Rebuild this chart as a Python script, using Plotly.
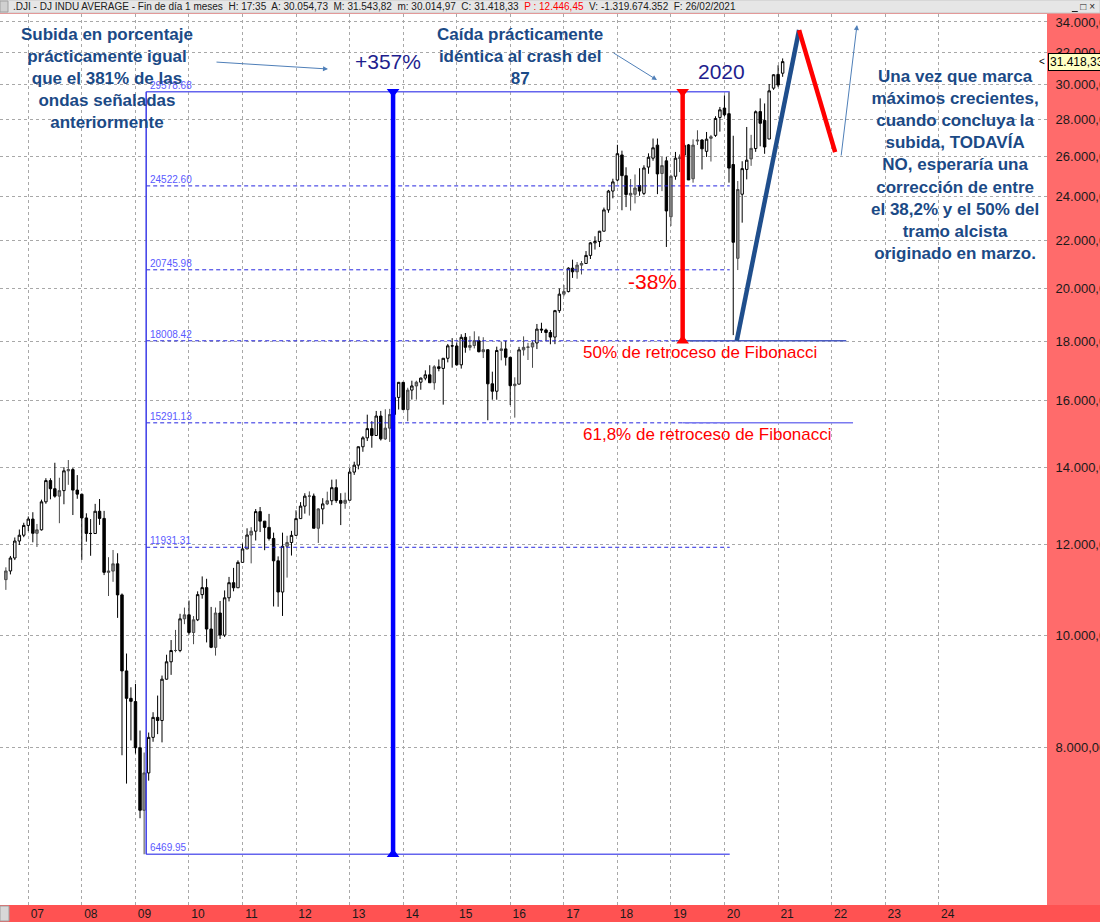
import math

import pandas as pd
import plotly.graph_objects as go

# Dow Jones Industrial Average, monthly candles Aug 2006 - Feb 2021
FIRST_MONTH = "2006-08-01"

OPEN = [
    11186, 11381, 11679, 12081, 12222,
    12463, 12622, 12269, 12354, 13063, 13628, 13409, 13212, 13358, 13896, 13930, 13372,
    13262, 12650, 12266, 12263, 12820, 12638, 11350, 11378, 11544, 10851, 9325, 8829,
    8772, 8001, 7063, 7609, 8168, 8500, 8447, 9172, 9496, 9712, 9713, 10345,
    10428, 10067, 10325, 10857, 11009, 10137, 9774, 10466, 10015, 10788, 11118, 11006,
    11578, 11892, 12226, 12320, 12811, 12570, 12414, 12143, 11614, 10913, 11955, 12046,
    12218, 12633, 12952, 13212, 13214, 12393, 12880, 13009, 13091, 13437, 13096, 13026,
    13104, 13861, 14054, 14579, 14840, 15116, 14910, 15500, 14810, 15130, 15546, 16086,
    16577, 15699, 16322, 16458, 16581, 16717, 16827, 16563, 17098, 17043, 17391, 17828,
    17823, 17165, 18133, 17776, 17841, 18011, 17620, 17690, 16528, 16285, 17664, 17720,
    17425, 16466, 16517, 17685, 17774, 17787, 17930, 18432, 18401, 18308, 18142, 19124,
    19763, 19864, 20812, 20663, 20941, 21009, 21350, 21891, 21948, 22405, 23377, 24272,
    24809, 26083, 25025, 24076, 24118, 24542, 24161, 25461, 25917, 26598, 25135, 25779,
    23059, 24999, 25916, 26075, 26611, 24875, 26818, 26873, 26272, 26963, 27120, 28109,
    28639, 28319, 25591, 21227, 24120, 25342, 25879, 26419, 28439, 27941, 26925, 29799,
    30627, 30700,
]
HIGH = [
    11464, 11727, 12167, 12362, 12529,
    12687, 12795, 12500, 13121, 13693, 13692, 14121, 13705, 14000, 14198, 13973, 13778,
    13280, 12768, 12622, 13010, 13136, 12830, 11698, 11867, 11790, 10882, 9654, 9026,
    9088, 8280, 7925, 8247, 8588, 8878, 9239, 9631, 9917, 10119, 10450, 10580,
    10729, 10402, 10928, 11258, 11205, 10594, 10581, 10720, 10948, 11247, 11451, 11625,
    12020, 12391, 12419, 12876, 12929, 12570, 12753, 12285, 11717, 12284, 12208, 12329,
    12843, 13056, 13289, 13338, 13280, 12898, 13158, 13330, 13653, 13661, 13290, 13305,
    13970, 14150, 14585, 14888, 15542, 15341, 15658, 15659, 15710, 15722, 16174, 16589,
    16588, 16399, 16631, 16630, 16736, 16978, 17152, 17153, 17350, 17395, 17895, 18104,
    17951, 18244, 18289, 18175, 18351, 18168, 18137, 17691, 16933, 17799, 17978, 17996,
    17425, 16743, 17790, 18168, 17934, 18017, 18622, 18668, 18450, 18399, 19152, 19988,
    20126, 20851, 21169, 21070, 21112, 21535, 21929, 22179, 22420, 23485, 24328, 24876,
    26617, 26307, 25450, 24858, 25087, 25402, 25552, 26168, 26952, 26951, 25980, 25980,
    25075, 26241, 26109, 26696, 26660, 26907, 27399, 26913, 27306, 27145, 28175, 28702,
    29374, 29568, 27102, 24764, 25758, 27580, 27151, 28503, 29199, 28903, 30046, 30637,
    31193, 31620,
]
LOW = [
    10960, 11303, 11631, 11986, 12174,
    12321, 12050, 11939, 12336, 13013, 13129, 13172, 12518, 13000, 13513, 12724, 13143,
    11635, 12065, 11731, 12263, 12476, 11288, 10827, 11137, 10365, 7882, 7449, 8118,
    7909, 6952, 6470, 7493, 8097, 8221, 8087, 9165, 9252, 9678, 9679, 10236,
    10026, 9835, 10299, 10769, 9870, 9758, 9614, 9937, 9976, 10711, 10929, 11005,
    11578, 11892, 11555, 12093, 12299, 11862, 12093, 10604, 10597, 10405, 11231, 11736,
    12212, 12633, 12759, 12710, 12391, 12035, 12492, 12978, 12977, 13037, 12471, 12884,
    13104, 13784, 13937, 14434, 14746, 14551, 14910, 14761, 14778, 14719, 15467, 15703,
    15699, 15340, 16017, 16015, 16334, 16644, 16563, 16334, 16945, 15855, 17250, 17068,
    17136, 17037, 17585, 17664, 17736, 17597, 17399, 15370, 16013, 16013, 17320, 17139,
    15842, 15451, 16511, 17484, 17331, 17063, 17713, 18289, 17992, 17883, 17888, 19038,
    19678, 19832, 20413, 20380, 20554, 20996, 21197, 21600, 21709, 22405, 23243, 23922,
    24741, 23360, 23509, 23345, 23682, 24043, 24077, 25124, 25784, 24123, 24268, 21713,
    22639, 24827, 25208, 26071, 24813, 24680, 26607, 25339, 25978, 25744, 27040, 27325,
    28169, 24681, 18213, 20735, 22790, 24843, 25523, 26245, 26537, 26143, 26925, 29699,
    29856, 30480,
]
CLOSE = [
    11381, 11679, 12081, 12222, 12463,
    12622, 12269, 12354, 13063, 13628, 13409, 13212, 13358, 13896, 13930, 13372, 13265,
    12650, 12266, 12263, 12820, 12638, 11350, 11378, 11544, 10851, 9325, 8829, 8776,
    8001, 7063, 7609, 8168, 8500, 8447, 9172, 9496, 9712, 9713, 10345, 10428,
    10067, 10325, 10857, 11009, 10137, 9774, 10466, 10015, 10788, 11118, 11006, 11578,
    11892, 12226, 12320, 12811, 12570, 12414, 12143, 11614, 10913, 11955, 12046, 12218,
    12633, 12952, 13212, 13214, 12393, 12880, 13009, 13091, 13437, 13096, 13026, 13104,
    13861, 14054, 14579, 14840, 15116, 14910, 15500, 14810, 15130, 15546, 16086, 16577,
    15699, 16322, 16458, 16581, 16717, 16827, 16563, 17098, 17043, 17391, 17828, 17823,
    17165, 18133, 17776, 17841, 18011, 17620, 17690, 16528, 16285, 17664, 17720, 17425,
    16466, 16517, 17685, 17774, 17787, 17930, 18432, 18401, 18308, 18142, 19124, 19763,
    19864, 20812, 20663, 20941, 21009, 21350, 21891, 21948, 22405, 23377, 24272, 24719,
    26149, 25029, 24103, 24163, 24416, 24271, 25415, 25965, 26458, 25116, 25538, 23327,
    24999, 25916, 25929, 26593, 24815, 26600, 26864, 26403, 26917, 27046, 28051, 28538,
    28256, 25409, 21917, 24346, 25383, 25813, 26428, 28430, 27782, 26502, 29639, 30606,
    29983, 31418.33,
]

# Fibonacci retracement drawn from the March 2009 low to the February 2020 high
FIB_LEVELS = [29578.68, 24522.60, 20745.98, 18008.42, 15291.13, 11931.31, 6469.95]
FIB_START, FIB_END = "2009-03-15", "2020-02-06"
EXT_50 = (["2019-02-02", "2022-04-11"], 18008.42)
EXT_618 = (["2019-03-20", "2022-05-27"], 15291.13)

# hand-drawn measures and projected path
RISE_DATE, RISE_RANGE = "2013-10-24", [6469.95, 29578.68]
DROP_DATE, DROP_RANGE = "2019-03-22", [18008.42, 29578.68]
PATH_UP = (["2020-03-25", "2021-05-24"], [18008.42, 33460])
PATH_DOWN = (["2021-05-24", "2022-01-25"], [33460, 26235])

Y_TICKS = list(range(8000, 34001, 2000))
YEARS = list(range(2007, 2025))

months = pd.date_range(FIRST_MONTH, periods=len(CLOSE), freq="MS")

# candle tone: black = down month, white = up month above previous high, gray = other up months
tone = []
for i, (o, c) in enumerate(zip(OPEN, CLOSE)):
    if c < o:
        tone.append("black")
    elif i > 0 and c > HIGH[i - 1]:
        tone.append("white")
    else:
        tone.append("gray")

PLOT_W, PLOT_H, TOP = 1047, 891, 14


def px(x):
    return x / PLOT_W


def py(y):
    return (TOP + PLOT_H - y) / PLOT_H


FONT = "Arial, Liberation Sans, sans-serif"
TEXT_BLUE = "#1B4A86"
NAVY = "#1E1E8E"

fig = go.Figure()

candle_styles = {
    "white": ("#FFFFFF", "#000000"),
    "gray": ("#8C8C8C", "#4A4A4A"),
    "black": ("#000000", "#000000"),
}
for name, (fill, edge) in candle_styles.items():
    keep = [t == name for t in tone]
    fig.add_trace(go.Candlestick(
        x=months,
        open=[v if k else None for v, k in zip(OPEN, keep)],
        high=[v if k else None for v, k in zip(HIGH, keep)],
        low=[v if k else None for v, k in zip(LOW, keep)],
        close=[v if k else None for v, k in zip(CLOSE, keep)],
        increasing=dict(fillcolor=fill, line=dict(color=edge, width=1)),
        decreasing=dict(fillcolor=fill, line=dict(color=edge, width=1)),
        whiskerwidth=0,
        showlegend=False,
        hoverinfo="skip",
    ))

# fib levels
for lvl in FIB_LEVELS:
    solid = lvl in (FIB_LEVELS[0], FIB_LEVELS[-1])
    fig.add_trace(go.Scatter(
        x=[FIB_START, FIB_END], y=[lvl, lvl], mode="lines",
        line=dict(color="#6464EE" if solid else "#2626E0",
                  width=1.5 if solid else 1, dash="solid" if solid else "4px,3px"),
        showlegend=False, hoverinfo="skip",
    ))
    fig.add_annotation(
        x=FIB_START, y=math.log10(lvl), text=f"{lvl:.2f}",
        xanchor="left", yanchor="bottom", xshift=2, yshift=-1, showarrow=False,
        font=dict(family=FONT, size=10, color="#5A5AFF"),
    )
fig.add_trace(go.Scatter(
    x=[FIB_START, FIB_START], y=[FIB_LEVELS[-1], FIB_LEVELS[0]], mode="lines",
    line=dict(color="#3C3CE8", width=1.5), showlegend=False, hoverinfo="skip",
))
for (dates, lvl), col in ((EXT_50, "#4B5CC4"), (EXT_618, "#7A7AF0")):
    fig.add_trace(go.Scatter(
        x=dates, y=[lvl, lvl], mode="lines", line=dict(color=col, width=1.5),
        showlegend=False, hoverinfo="skip",
    ))

# measure bars
for date, rng, col in ((RISE_DATE, RISE_RANGE, "#0000FF"), (DROP_DATE, DROP_RANGE, "#FF0000")):
    fig.add_trace(go.Scatter(
        x=[date, date], y=rng, mode="lines+markers",
        line=dict(color=col, width=4.5),
        marker=dict(symbol=["triangle-up", "triangle-down"], size=11, color=col),
        showlegend=False, hoverinfo="skip",
    ))

# projected path
for (dates, vals), col in ((PATH_UP, "#1F4E8C"), (PATH_DOWN, "#FF0000")):
    fig.add_trace(go.Scatter(
        x=dates, y=vals, mode="lines", line=dict(color=col, width=4.5),
        showlegend=False, hoverinfo="skip",
    ))

# texts
bold_notes = [
    ("<b>Subida en porcentaje<br>prácticamente igual<br>que el 381% de las"
     "<br>ondas señaladas<br>anteriormente</b>", 107, 78),
    ("<b>Caída prácticamente<br>idéntica al crash del<br>87</b>", 520, 56),
    ("<b>Una vez que marca<br>máximos crecientes,<br>cuando concluya la<br>subida, TODAVÍA"
     "<br>NO, esperaría una<br>corrección de entre<br>el 38,2% y el 50% del"
     "<br>tramo alcista<br>originado en marzo.</b>", 955, 165),
]
for text, x, y in bold_notes:
    fig.add_annotation(
        xref="paper", yref="paper", x=px(x), y=py(y), text=text, showarrow=False,
        align="center", xanchor="center", yanchor="middle",
        font=dict(family=FONT, size=17, color=TEXT_BLUE),
    )

for text, x, y, col in (("+357%", 388, 62, NAVY), ("2020", 721, 71, NAVY), ("-38%", 652, 282, "#FF0000")):
    fig.add_annotation(
        xref="paper", yref="paper", x=px(x), y=py(y), text=text, showarrow=False,
        xanchor="center", yanchor="middle", font=dict(family=FONT, size=21, color=col),
    )

for text, y in (("50% de retroceso de Fibonacci", 352), ("61,8% de retroceso de Fibonacci", 435)):
    fig.add_annotation(
        xref="paper", yref="paper", x=px(581), y=py(y), text=text, showarrow=False,
        xanchor="left", yanchor="middle", font=dict(family=FONT, size=17, color="#FF0000"),
    )

# thin pointer arrows
for (hx, hy), (tx, ty) in (((328, 69), (215, 62)), ((657, 80), (612, 52)), ((857, 25), (841, 157))):
    fig.add_annotation(
        xref="paper", yref="paper", x=px(hx), y=py(hy), ax=tx - hx, ay=ty - hy,
        text="", showarrow=True, arrowhead=2, arrowsize=1, arrowwidth=1,
        arrowcolor="#4F7FB8",
    )

# last price tag
fig.add_annotation(
    xref="paper", x=1.0, y=math.log10(CLOSE[-1]), text="31.418,33",
    xanchor="left", yanchor="middle", showarrow=False, xshift=1,
    bgcolor="#FFFFC4", bordercolor="#000000", borderwidth=1, borderpad=1,
    font=dict(family=FONT, size=12, color="#000000"),
)
fig.add_annotation(
    xref="paper", x=1.0, y=math.log10(CLOSE[-1]), text="<", xanchor="right",
    yanchor="middle", showarrow=False, font=dict(family=FONT, size=10, color="#000000"),
)

# header bar
fig.add_shape(type="rect", xref="paper", yref="paper", x0=0, x1=px(1100), y0=py(13), y1=py(0),
              fillcolor="#E6E6E6", line=dict(color="#C8C8C8", width=1), layer="above")
fig.add_shape(type="rect", xref="paper", yref="paper", x0=0, x1=px(8), y0=py(12), y1=py(1),
              fillcolor="#D0D0D0", line=dict(color="#A0A0A0", width=1), layer="above")
fig.add_annotation(
    xref="paper", yref="paper", x=px(11), y=py(6.5), xanchor="left", yanchor="middle",
    showarrow=False, font=dict(family=FONT, size=10, color="#202020"),
    text=(".DJI - DJ INDU AVERAGE - Fin de día 1 meses  H: 17:35  A: 30.054,73  "
          "M: 31.543,82  m: 30.014,97  C: 31.418,33  "
          "<span style='color:#FF0000'>P : 12.446,45</span>  V: -1.319.674.352  F: 26/02/2021"),
)
fig.add_annotation(
    xref="paper", yref="paper", x=px(1097), y=py(6.5), xanchor="right", yanchor="middle",
    showarrow=False, text="<u>_</u> □ ×", font=dict(family=FONT, size=10, color="#202020"),
)

# bottom band
fig.add_shape(type="rect", xref="paper", yref="paper", x0=0, x1=px(1100), y0=py(922), y1=py(905),
              fillcolor="#FF5252", line=dict(width=0), layer="below")
fig.add_shape(type="rect", xref="paper", yref="paper", x0=0, x1=px(9), y0=py(921), y1=py(906),
              fillcolor="#D8D8D8", line=dict(color="#A0A0A0", width=1), layer="above")

fig.update_layout(
    width=1100,
    height=922,
    margin=dict(l=0, r=53, t=14, b=17, autoexpand=False),
    paper_bgcolor="#FF6B6B",
    plot_bgcolor="#FFFFFF",
    showlegend=False,
    boxgap=0.15,
    xaxis=dict(
        type="date",
        range=["2006-06-22", "2026-01-09"],
        tickvals=[f"{y}-01-01" for y in YEARS],
        ticktext=[f"{y % 100:02d}" for y in YEARS],
        ticklabelshift=9,
        ticks="",
        tickfont=dict(family=FONT, size=12, color="#1A1A1A"),
        showgrid=True, gridcolor="#A8A8A8", griddash="dot", gridwidth=1,
        zeroline=False, showline=False, automargin=False,
        rangeslider=dict(visible=False),
    ),
    yaxis=dict(
        type="log",
        side="right",
        range=[3.76698, 4.5384],
        tickvals=Y_TICKS,
        ticktext=[f"{v:,.2f}".replace(",", "X").replace(".", ",").replace("X", ".") for v in Y_TICKS],
        ticks="outside", ticklen=5, tickcolor="#FF6B6B",
        tickfont=dict(family=FONT, size=13, color="#1A1A1A"),
        showgrid=True, gridcolor="#A8A8A8", griddash="dot", gridwidth=1,
        zeroline=False, showline=False, automargin=False,
    ),
)

# the page body has an 8px default margin; drop it so the figure fills the window
fig.write_html(
    "out.html",
    config={"displayModeBar": False},
    post_script="document.body.style.margin = '0';",
)
